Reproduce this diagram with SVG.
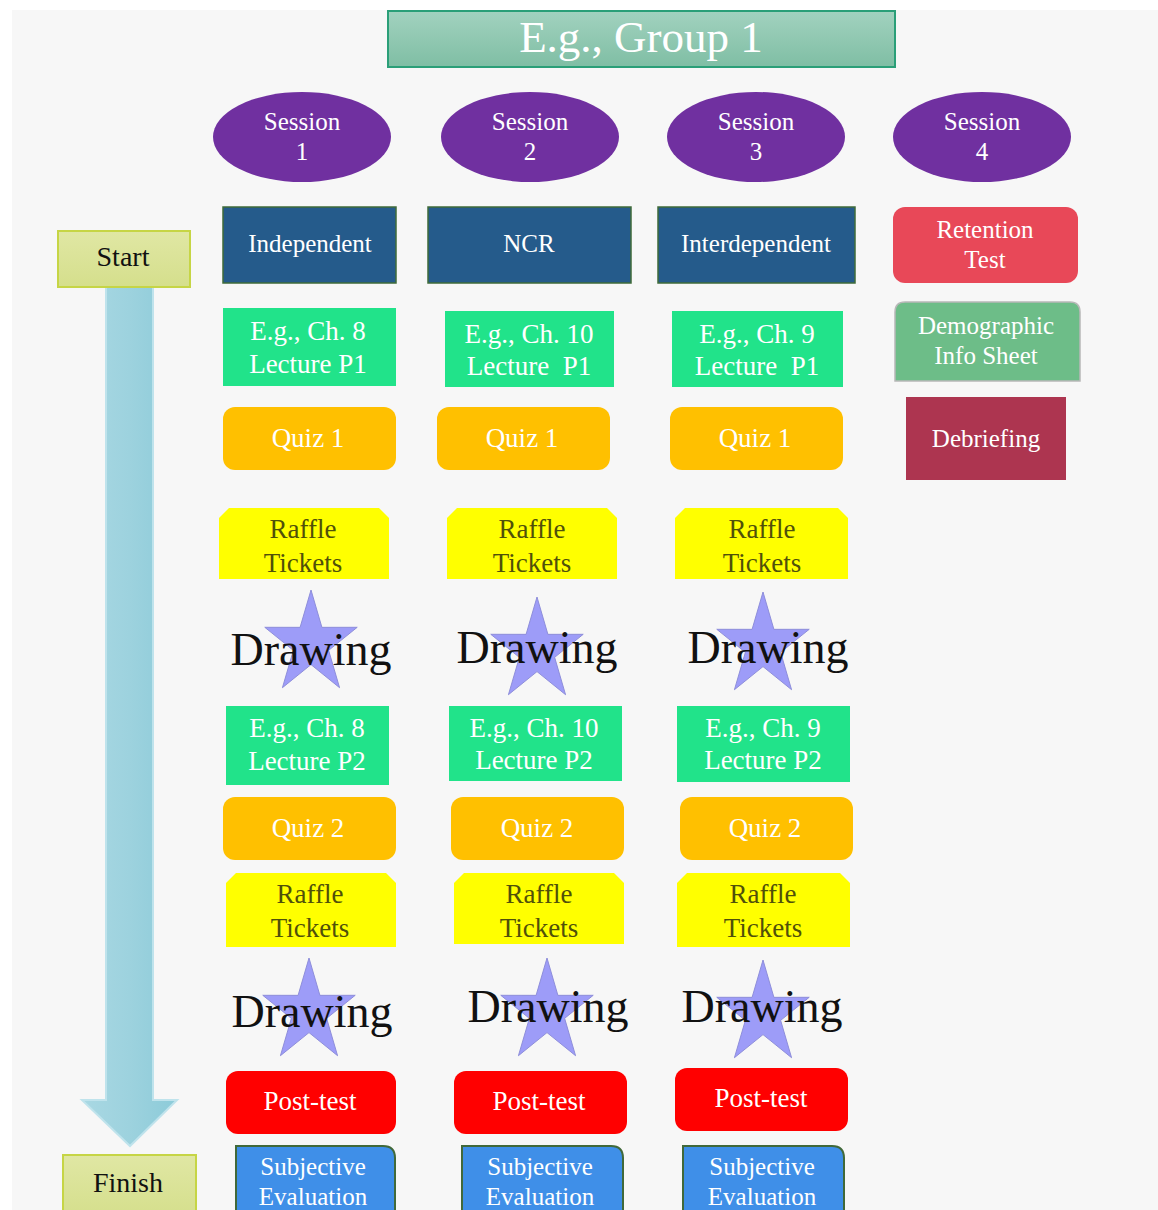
<svg xmlns="http://www.w3.org/2000/svg" width="1158" height="1210" viewBox="0 0 1158 1210" font-family="'Liberation Serif', 'DejaVu Serif', 'Times New Roman', serif">
<defs>
<linearGradient id="gTitle" x1="0" y1="0" x2="0" y2="1"><stop offset="0" stop-color="#a2d2bf"/><stop offset="1" stop-color="#7fbea4"/></linearGradient>
<linearGradient id="gLime" x1="0" y1="0" x2="0" y2="1"><stop offset="0" stop-color="#e0e7a4"/><stop offset="1" stop-color="#d5df8c"/></linearGradient>
<linearGradient id="gArrow" x1="0" y1="0" x2="1" y2="0"><stop offset="0" stop-color="#a9d8e3"/><stop offset="0.5" stop-color="#9dd2de"/><stop offset="1" stop-color="#8ccbd9"/></linearGradient>
<path id="star" d="M0,-54 L12.11,-16.67 L51.36,-16.69 L19.59,6.37 L31.74,43.69 L0,20.6 L-31.74,43.69 L-19.59,6.37 L-51.36,-16.69 L-12.11,-16.67 Z"/>
</defs>
<style>
text{font-family:'Liberation Serif','DejaVu Serif','Times New Roman',serif;text-anchor:middle}
.w{fill:#ffffff}
.t25{font-size:25px}
.t27{font-size:27px}
.sess{fill:#7030a0}
.cond{fill:#255b8b;stroke:#3f6b3a;stroke-width:1.5}
.lec{fill:#21e38a}
.quiz{fill:#ffc000}
.raf{fill:#ffff00}
.raft{fill:#50500a;font-size:27px}
.starS{fill:#9d9cf8;stroke:#8b8bd8;stroke-width:1}
.draw{fill:#111111;font-size:46px}
.post{fill:#ff0000}
.subj{fill:#3f8fe8;stroke:#41693a;stroke-width:2}
.lime{fill:url(#gLime);stroke:#c6d545;stroke-width:2}
</style>
<rect x="0" y="0" width="1158" height="1210" fill="#ffffff"/>
<rect x="12" y="10" width="1146" height="1200" fill="#f7f7f7"/>

<g id="connectors">
<polygon points="106,287 153,287 153,1100 177,1100 130,1146 82,1100 106,1100" fill="url(#gArrow)" stroke="#bfe3ec" stroke-width="2"/>
</g>

<g id="title"><rect x="388" y="11" width="507" height="56" fill="url(#gTitle)" stroke="#2a9f78" stroke-width="2"/><text x="641" y="52" class="w" font-size="45">E.g., Group 1</text></g>

<g id="session1"><ellipse cx="302" cy="137" rx="89" ry="45" class="sess"/><text x="302" y="130" class="w t25">Session</text><text x="302" y="160" class="w t25">1</text></g>
<g id="session2"><ellipse cx="530" cy="137" rx="89" ry="45" class="sess"/><text x="530" y="130" class="w t25">Session</text><text x="530" y="160" class="w t25">2</text></g>
<g id="session3"><ellipse cx="756" cy="137" rx="89" ry="45" class="sess"/><text x="756" y="130" class="w t25">Session</text><text x="756" y="160" class="w t25">3</text></g>
<g id="session4"><ellipse cx="982" cy="137" rx="89" ry="45" class="sess"/><text x="982" y="130" class="w t25">Session</text><text x="982" y="160" class="w t25">4</text></g>

<g id="start"><rect x="58" y="231" width="132" height="56" class="lime"/><text x="123" y="266" font-size="28" fill="#111111">Start</text></g>
<g id="finish"><rect x="63" y="1155" width="133" height="62" class="lime"/><text x="128" y="1192" font-size="28" fill="#111111">Finish</text></g>

<g id="independent"><rect x="223" y="207" width="173" height="76" class="cond"/><text x="310" y="252" class="w t25">Independent</text></g>
<g id="ncr"><rect x="428" y="207" width="203" height="76" class="cond"/><text x="529" y="252" class="w t25">NCR</text></g>
<g id="interdependent"><rect x="658" y="207" width="197" height="76" class="cond"/><text x="756" y="252" class="w t25">Interdependent</text></g>

<g id="retention"><rect x="893" y="207" width="185" height="76" rx="12" fill="#e84858"/><text x="985" y="238" class="w t25">Retention</text><text x="985" y="268" class="w t25">Test</text></g>
<g id="demographic"><path d="M905,302 H1070 Q1080,302 1080,312 V381 H895 V312 Q895,302 905,302 Z" fill="#6dbd88" stroke="#b8b8b8" stroke-width="1.5"/><text x="986" y="334" class="w t25">Demographic</text><text x="986" y="364" class="w t25">Info Sheet</text></g>
<g id="debriefing"><rect x="906" y="397" width="160" height="83" fill="#ad3550"/><text x="986" y="447" class="w t25">Debriefing</text></g>

<g id="lecture1a"><rect x="223" y="308" width="173" height="78" class="lec"/><text x="308" y="340" class="w t27">E.g., Ch. 8</text><text x="308" y="373" class="w t27">Lecture P1</text></g>
<g id="lecture2a"><rect x="445" y="311" width="169" height="76" class="lec"/><text x="529" y="343" class="w t27">E.g., Ch. 10</text><text x="529" y="375" class="w t27" xml:space="preserve">Lecture  P1</text></g>
<g id="lecture3a"><rect x="672" y="311" width="171" height="76" class="lec"/><text x="757" y="343" class="w t27">E.g., Ch. 9</text><text x="757" y="375" class="w t27" xml:space="preserve">Lecture  P1</text></g>

<g id="quiz1a"><rect x="223" y="407" width="173" height="63" rx="12" class="quiz"/><text x="308" y="447" class="w t27">Quiz 1</text></g>
<g id="quiz2a"><rect x="437" y="407" width="173" height="63" rx="12" class="quiz"/><text x="522" y="447" class="w t27">Quiz 1</text></g>
<g id="quiz3a"><rect x="670" y="407" width="173" height="63" rx="12" class="quiz"/><text x="755" y="447" class="w t27">Quiz 1</text></g>

<g id="raffle1a"><path d="M229,508 H379 L389,518 V579 H219 V518 Z" class="raf"/><text x="303" y="538" class="raft">Raffle</text><text x="303" y="572" class="raft">Tickets</text></g>
<g id="raffle2a"><path d="M457,508 H607 L617,518 V579 H447 V518 Z" class="raf"/><text x="532" y="538" class="raft">Raffle</text><text x="532" y="572" class="raft">Tickets</text></g>
<g id="raffle3a"><path d="M685,508 H838 L848,518 V579 H675 V518 Z" class="raf"/><text x="762" y="538" class="raft">Raffle</text><text x="762" y="572" class="raft">Tickets</text></g>

<g id="drawing1a"><use href="#star" class="starS" transform="translate(311,644) scale(0.9,1)"/><text x="311" y="665" class="draw">Drawing</text></g>
<g id="drawing2a"><use href="#star" class="starS" transform="translate(537,651) scale(0.9,1)"/><text x="537" y="663" class="draw">Drawing</text></g>
<g id="drawing3a"><use href="#star" class="starS" transform="translate(763,646) scale(0.9,1)"/><text x="768" y="663" class="draw">Drawing</text></g>

<g id="lecture1b"><rect x="226" y="706" width="163" height="79" class="lec"/><text x="307" y="737" class="w t27">E.g., Ch. 8</text><text x="307" y="770" class="w t27">Lecture P2</text></g>
<g id="lecture2b"><rect x="449" y="706" width="173" height="75" class="lec"/><text x="534" y="737" class="w t27">E.g., Ch. 10</text><text x="534" y="769" class="w t27">Lecture P2</text></g>
<g id="lecture3b"><rect x="677" y="706" width="173" height="76" class="lec"/><text x="763" y="737" class="w t27">E.g., Ch. 9</text><text x="763" y="769" class="w t27">Lecture P2</text></g>

<g id="quiz1b"><rect x="223" y="797" width="173" height="63" rx="12" class="quiz"/><text x="308" y="837" class="w t27">Quiz 2</text></g>
<g id="quiz2b"><rect x="451" y="797" width="173" height="63" rx="12" class="quiz"/><text x="537" y="837" class="w t27">Quiz 2</text></g>
<g id="quiz3b"><rect x="680" y="797" width="173" height="63" rx="12" class="quiz"/><text x="765" y="837" class="w t27">Quiz 2</text></g>

<g id="raffle1b"><path d="M236,873 H386 L396,883 V947 H226 V883 Z" class="raf"/><text x="310" y="903" class="raft">Raffle</text><text x="310" y="937" class="raft">Tickets</text></g>
<g id="raffle2b"><path d="M464,873 H614 L624,883 V944 H454 V883 Z" class="raf"/><text x="539" y="903" class="raft">Raffle</text><text x="539" y="937" class="raft">Tickets</text></g>
<g id="raffle3b"><path d="M687,873 H840 L850,883 V947 H677 V883 Z" class="raf"/><text x="763" y="903" class="raft">Raffle</text><text x="763" y="937" class="raft">Tickets</text></g>

<g id="drawing1b"><use href="#star" class="starS" transform="translate(309,1012) scale(0.9,1)"/><text x="312" y="1027" class="draw">Drawing</text></g>
<g id="drawing2b"><use href="#star" class="starS" transform="translate(547,1012) scale(0.9,1)"/><text x="548" y="1022" class="draw">Drawing</text></g>
<g id="drawing3b"><use href="#star" class="starS" transform="translate(763,1014) scale(0.9,1)"/><text x="762" y="1022" class="draw">Drawing</text></g>

<g id="posttest1"><rect x="226" y="1071" width="170" height="63" rx="12" class="post"/><text x="310" y="1110" class="w t27">Post-test</text></g>
<g id="posttest2"><rect x="454" y="1071" width="173" height="63" rx="12" class="post"/><text x="539" y="1110" class="w t27">Post-test</text></g>
<g id="posttest3"><rect x="675" y="1068" width="173" height="63" rx="12" class="post"/><text x="761" y="1107" class="w t27">Post-test</text></g>

<g id="subjective1"><path d="M236,1146 H383 Q395,1146 395,1158 V1218 H236 Z" class="subj"/><text x="313" y="1175" class="w t25">Subjective</text><text x="313" y="1205" class="w t25">Evaluation</text></g>
<g id="subjective2"><path d="M462,1146 H611 Q623,1146 623,1158 V1218 H462 Z" class="subj"/><text x="540" y="1175" class="w t25">Subjective</text><text x="540" y="1205" class="w t25">Evaluation</text></g>
<g id="subjective3"><path d="M683,1146 H832 Q844,1146 844,1158 V1218 H683 Z" class="subj"/><text x="762" y="1175" class="w t25">Subjective</text><text x="762" y="1205" class="w t25">Evaluation</text></g>
</svg>
